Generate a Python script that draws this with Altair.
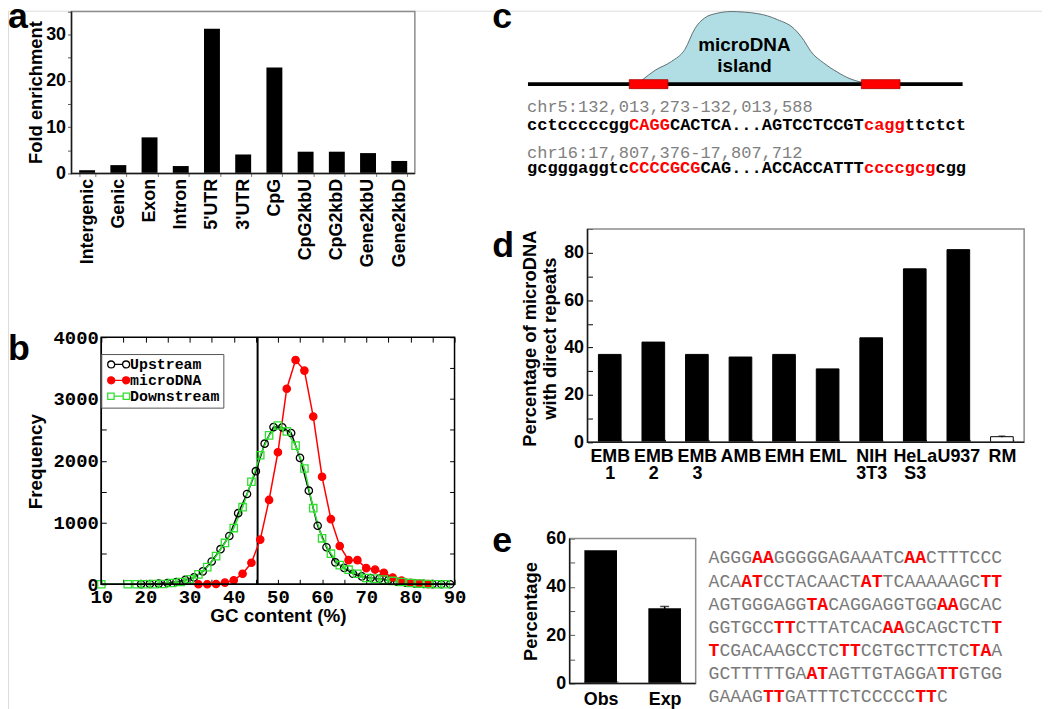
import altair as alt
import pandas as pd

# ------------------------------------------------------------------ data
a_categories = ["Intergenic", "Genic", "Exon", "Intron", "5'UTR", "3'UTR", "CpG",
                "CpG2kbU", "CpG2kbD", "Gene2kbU", "Gene2kbD"]
a_fold = [0.7, 1.8, 7.8, 1.6, 31.3, 4.1, 22.9, 4.7, 4.7, 4.4, 2.7]

b_series = ["Upstream", "microDNA", "Downstream"]
b_colors = ["black", "#ff0000", "#2fe02f"]
b_up_gc = [19, 21, 23, 25, 27, 29, 31, 33, 35, 37, 39, 41, 43, 45, 47, 49, 51, 53,
           55, 57, 59, 61, 63, 65, 67, 69, 71, 73, 75, 77, 79, 81, 83, 85, 87, 89]
b_up_freq = [2, 5, 11, 21, 37, 70, 112, 209, 369, 568, 782, 1151, 1462, 1831, 2276, 2544, 2540, 2448,
             2046, 1515, 948, 600, 355, 265, 170, 128, 102, 91, 66, 40, 24, 12, 6, 2, 0, 0]
b_mi_gc = [32, 34, 36, 38, 40, 42, 44, 46, 48, 50, 52, 54, 56, 58, 60, 62, 64, 66, 68,
           70, 72, 74, 76, 78, 80, 82, 84]
b_mi_freq = [0, 0, 5, 27, 64, 171, 348, 723, 1365, 2137, 3165, 3630, 3459, 2715, 1740, 1055, 620, 390, 390,
             262, 238, 187, 110, 60, 25, 10, 3]
b_dn_gc = [10, 16, 18, 20, 22, 24, 26, 28, 30, 32, 34, 36, 38, 40, 42, 44, 46, 48, 50,
           52, 54, 56, 58, 60, 62, 64, 66, 68, 70, 72, 74, 76, 78, 80, 82, 84, 86, 88]
b_dn_freq = [0, 0, 0, 0, 2, 5, 21, 37, 80, 160, 278, 455, 669, 910, 1248, 1660, 2088, 2410, 2570,
             2474, 2244, 1874, 1232, 744, 495, 310, 236, 171, 102, 91, 75, 54, 37, 21, 11, 5, 0, 0]
b_cutoff = 45.4

c_island_pos = [26.3, 29.2, 33.0, 36.1, 38.4, 40.6, 43.7, 46.7, 52.8, 57.4, 61.2, 63.5, 65.0, 68.0, 71.1, 74.1, 76.8]
c_island_height = [5.8, 18.9, 31.2, 47.8, 76.5, 91.0, 97.9, 100, 97.2, 88.9, 76.5, 60.1, 45.7, 29.3, 16.9, 7.4, 2.5]
c_repeat_start = [23.3, 76.7]
c_repeat_end = [32.2, 85.6]
c_island_label = ["microDNA", "island"]
c_coords = ["chr5:132,013,273-132,013,588", "chr16:17,807,376-17,807,712"]
c_seqs = ["cctcccccgg{CAGG}CACTCA...AGTCCTCCGT{cagg}ttctct",
          "gcgggaggtc{CCCCGCG}CAG...ACCACCATTT{ccccgcg}cgg"]

d_categories = ["EMB 1", "EMB 2", "EMB 3", "AMB", "EMH", "EML", "NIH 3T3", "HeLa S3", "U937", "RM"]
d_percent = [37.1, 42.3, 37.1, 36.0, 37.1, 31.0, 44.1, 73.2, 81.3, 2.4]
d_error = [0, 0, 0, 0, 0, 0, 0, 0, 0, 0.3]

e_categories = ["Obs", "Exp"]
e_percent = [55.2, 31.2]
e_error = [0, 0.7]
e_seq = ["AGGG{AA}GGGGGAGAAATC{AA}CTTTCCC",
         "ACA{AT}CCTACAACT{AT}TCAAAAAGC{TT}",
         "AGTGGGAGG{TA}CAGGAGGTGG{AA}GCAC",
         "GGTGCC{TT}CTTATCAC{AA}GCAGCTCT{T}",
         "{T}CGACAAGCCTC{TT}CGTGCTTCTC{TA}A",
         "GCTTTTTGA{AT}AGTTGTAGGA{TT}GTGG",
         "GAAAG{TT}GATTTCTCCCCC{TT}C"]

panel_letters = ["a", "b", "c", "d", "e"]

# ------------------------------------------------------------------ layout
SANS = "Liberation Sans"
MONO = "Liberation Mono"
W, H = 1042, 704


def X(r):
    # reference pixel -> view pixel (page has an 8px margin; squeeze only the first 40px)
    return round(r * 0.8, 2) if r < 40 else r - 8


def Y(r):
    return round(r * 52 / 60, 2) if r < 60 else r - 8


def lin(domain, r0, r1):
    return alt.Scale(domain=domain, range=[r0, r1], nice=False, zero=False)


BOLD18 = dict(labelFont=SANS, labelFontSize=18, labelFontWeight="bold", labelColor="black")
TITLE = dict(titleFont=SANS, titleFontWeight="bold", titleColor="black")


def frame(xr, yr, edge="#8c8c8c", lb="#1a1a1a", sw=1.5):
    xs = lin([0, 1], X(xr[0]), X(xr[1]))
    ys = lin([0, 1], Y(yr[1]), Y(yr[0]))
    box = alt.Chart(pd.DataFrame({"x0": [0], "x1": [1], "y0": [0], "y1": [1]})).mark_rect(
        fillOpacity=0, stroke=edge, strokeWidth=sw).encode(
        x=alt.X("x0:Q", scale=xs, axis=None), x2="x1:Q",
        y=alt.Y("y0:Q", scale=ys, axis=None), y2="y1:Q")
    lpath = alt.Chart(pd.DataFrame({"x": [0, 0, 1], "y": [1, 0, 0], "o": [0, 1, 2]})).mark_line(
        color=lb, strokeWidth=sw).encode(
        x=alt.X("x:Q", scale=xs, axis=None), y=alt.Y("y:Q", scale=ys, axis=None), order="o:Q")
    return [box, lpath]


def segments(s):
    out, buf, pos, red = [], "", 0, False
    for ch in s:
        if ch in "{}":
            if buf:
                out.append((buf, pos - len(buf), red))
            buf = ""
            red = ch == "{"
        else:
            buf += ch
            pos += 1
    if buf:
        out.append((buf, pos - len(buf), red))
    return out


tys = lin([100, 700], Y(100), Y(700))   # text baselines (reference px)

# ------------------------------------------------------------------ panel a
A_X, A_Y = (72, 418), (1, 172)
a_df = pd.DataFrame({"cat": a_categories, "val": a_fold})
a_bars = alt.Chart(a_df).mark_bar(color="black").encode(
    x=alt.X("cat:N", sort=a_categories,
            scale=alt.Scale(domain=a_categories, range=[X(A_X[0]), X(A_X[1])],
                            paddingInner=0.49, paddingOuter=0.245),
            axis=alt.Axis(orient="bottom", offset=Y(A_Y[1]) - H, title=None, labelAngle=270,
                          labelPadding=2, tickBand="extent", tickSize=3, tickColor="#777",
                          domain=False, labelOverlap=False, **BOLD18)),
    y=alt.Y("val:Q", scale=lin([0, 35], Y(A_Y[1]), Y(A_Y[0])),
            axis=alt.Axis(orient="left", offset=-X(A_X[0]), values=[0, 5, 10, 15, 20, 25, 30, 35],
                          labelExpr="datum.value % 10 === 0 ? datum.label : ''",
                          labelPadding=2, tickSize=4, tickColor="#555", domain=False, grid=False,
                          labelOverlap=False, title="Fold enrichment", titleFontSize=18.5,
                          titleAngle=270, titleAlign="center", titleBaseline="middle",
                          titleX=X(35) - X(A_X[0]), titleY=Y(90), **BOLD18, **TITLE)))

# ------------------------------------------------------------------ panel b
B_X, B_Y = (102, 458), (337, 586)
bxs = lin([10, 90], X(B_X[0]), X(B_X[1]))
bys = lin([0, 4000], Y(B_Y[1]), Y(B_Y[0]))
tick_x = [10, 15, 20, 25, 30, 35, 40, 45, 50, 55, 60, 65, 70, 75, 80, 85, 90]
tick_y = [0, 500, 1000, 1500, 2000, 2500, 3000, 3500, 4000]
b_df = pd.DataFrame({
    "gc": b_up_gc + b_mi_gc + b_dn_gc,
    "freq": b_up_freq + b_mi_freq + b_dn_freq,
    "series": [b_series[0]] * len(b_up_gc) + [b_series[1]] * len(b_mi_gc) + [b_series[2]] * len(b_dn_gc),
})
MONO_LAB = dict(labelFont=MONO, labelFontSize=19, labelFontWeight="bold", labelColor="black")
b_lines = alt.Chart(b_df).mark_line(strokeWidth=1.5).encode(
    x=alt.X("gc:Q", scale=bxs,
            axis=alt.Axis(orient="bottom", offset=Y(B_Y[1]) - 5 - H, values=tick_x, format="d",
                          labelExpr="datum.value % 10 === 0 ? datum.label : ''",
                          tickSize=5, tickColor="black", labelPadding=3, domain=False, grid=False,
                          labelFlush=False, labelOverlap=False,
                          title="GC content (%)", titleFontSize=19, titleAngle=0,
                          titleAlign="center", titleBaseline="alphabetic",
                          titleX=X(280), titleY=Y(624) - (Y(B_Y[1]) - 5), **MONO_LAB, **TITLE)),
    y=alt.Y("freq:Q", scale=bys,
            axis=alt.Axis(orient="left", offset=-(X(B_X[0]) + 5), values=tick_y, format="d",
                          labelExpr="datum.value % 1000 === 0 ? datum.label : ''",
                          tickSize=5, tickColor="black", labelPadding=3, domain=False, grid=False,
                          labelOverlap=False, title="Frequency", titleFontSize=19,
                          titleAngle=270, titleAlign="center", titleBaseline="middle",
                          titleX=X(35) - (X(B_X[0]) + 5), titleY=Y(462), **MONO_LAB, **TITLE)),
    color=alt.Color("series:N", scale=alt.Scale(domain=b_series, range=b_colors), legend=None))

b_fills = ["transparent", "#ff0000", "transparent"]
b_pts = alt.Chart(b_df).mark_point(strokeWidth=1.3, size=55, opacity=1).encode(
    x=alt.X("gc:Q", scale=bxs, axis=None),
    y=alt.Y("freq:Q", scale=bys, axis=None),
    color=alt.Color("series:N", scale=alt.Scale(domain=b_series, range=b_colors), legend=None),
    shape=alt.Shape("series:N", scale=alt.Scale(domain=b_series, range=["circle", "circle", "square"]),
                    legend=None),
    fill=alt.Fill("series:N", scale=alt.Scale(domain=b_series, range=b_fills), legend=None))

# legend glyphs "o-o" / "[]-[]" drawn as symbol paths (unit = sqrt(size)/2 px)
GLYPH_CIRCLES = ("M-2.75,0A0.875,0.875,0,1,1,-1,0A0.875,0.875,0,1,1,-2.75,0Z"
                 "M-1,0L1,0"
                 "M1,0A0.875,0.875,0,1,1,2.75,0A0.875,0.875,0,1,1,1,0Z")
GLYPH_SQUARES = ("M-2.75,-0.8H-1.15V0.8H-2.75Z"
                 "M-1.15,0H1.15"
                 "M1.15,-0.8H2.75V0.8H1.15Z")
b_leg = alt.Legend(orient="none", legendX=X(B_X[0]), legendY=Y(354), title=None,
                   labelFont=MONO, labelFontSize=15, labelFontWeight="bold", labelColor="black",
                   strokeColor="#555555", fillColor="white", padding=3, rowPadding=-3,
                   symbolStrokeWidth=1.3, symbolSize=64, symbolOffset=7, labelOffset=4)
b_legend = alt.Chart(pd.DataFrame({"series": pd.Series([], dtype=str)})).mark_point(opacity=1).encode(
    color=alt.Color("series:N", scale=alt.Scale(domain=b_series, range=b_colors), legend=b_leg),
    shape=alt.Shape("series:N", scale=alt.Scale(domain=b_series,
                                                range=[GLYPH_CIRCLES, GLYPH_CIRCLES, GLYPH_SQUARES]),
                    legend=b_leg),
    fill=alt.Fill("series:N", scale=alt.Scale(domain=b_series, range=b_fills), legend=b_leg))

b_cut = alt.Chart(pd.DataFrame({"gc": [b_cutoff], "lo": [0], "hi": [4000]})).mark_rule(
    color="black", strokeWidth=2).encode(
    x=alt.X("gc:Q", scale=bxs, axis=None), y=alt.Y("lo:Q", scale=bys, axis=None), y2="hi:Q")
b_mirror = alt.Chart(pd.DataFrame({"gc": [10], "freq": [0]})).mark_point(opacity=0).encode(
    x=alt.X("gc:Q", scale=bxs,
            axis=alt.Axis(orient="top", offset=-(Y(B_Y[0]) + 5), values=tick_x, labels=False,
                          tickSize=5, tickColor="black", domain=False, grid=False, title=None)),
    y=alt.Y("freq:Q", scale=bys,
            axis=alt.Axis(orient="right", offset=X(B_X[1]) - 5 - W, values=tick_y, labels=False,
                          tickSize=5, tickColor="black", domain=False, grid=False, title=None)))

# ------------------------------------------------------------------ panel c
cxs = lin([0, 100], X(532), X(970))
cys = lin([0, 100], Y(82), Y(1))
REP_HALF = 6.2
island_df = pd.DataFrame({"p": c_island_pos, "h": c_island_height, "base": [0] * len(c_island_pos)})
c_area = alt.Chart(island_df).mark_area(color="#b0dee4", interpolate="monotone", opacity=1).encode(
    x=alt.X("p:Q", scale=cxs, axis=None), y=alt.Y("h:Q", scale=cys, axis=None), y2="base:Q")
c_outline = alt.Chart(island_df).mark_line(color="#5f6f72", strokeWidth=1, interpolate="monotone").encode(
    x=alt.X("p:Q", scale=cxs, axis=None), y=alt.Y("h:Q", scale=cys, axis=None))
c_chrom = alt.Chart(pd.DataFrame({"s": [0], "e": [100], "y": [0]})).mark_rule(
    color="black", strokeWidth=4).encode(
    x=alt.X("s:Q", scale=cxs, axis=None), x2="e:Q", y=alt.Y("y:Q", scale=cys, axis=None))
rep_df = pd.DataFrame({"s": c_repeat_start, "e": c_repeat_end,
                       "lo": [-REP_HALF] * 2, "hi": [REP_HALF] * 2})
c_rep = alt.Chart(rep_df).mark_rect(color="#ff0000", stroke="#b00000", strokeWidth=0.8).encode(
    x=alt.X("s:Q", scale=cxs, axis=None), x2="e:Q",
    y=alt.Y("lo:Q", scale=cys, axis=None), y2="hi:Q")
c_lab_df = pd.DataFrame({"t": c_island_label, "x": [49.8, 49.8], "y": [54.3, 24.7]})
c_lab = alt.Chart(c_lab_df).mark_text(font=SANS, fontSize=19, fontWeight="bold", color="black",
                                      align="center", baseline="middle").encode(
    x=alt.X("x:Q", scale=cxs, axis=None), y=alt.Y("y:Q", scale=cys, axis=None), text="t:N")

C_CHAR = 10.29
c_chars = lin([0, 43], X(531), X(531 + 43 * C_CHAR))
c_fs = round(C_CHAR / 0.6, 2)
c_coord_df = pd.DataFrame({"t": c_coords, "i": [0, 0], "yb": [110, 156]})
c_coord = alt.Chart(c_coord_df).mark_text(font=MONO, fontSize=c_fs, color="#808080",
                                          align="left", baseline="alphabetic").encode(
    x=alt.X("i:Q", scale=c_chars, axis=None), y=alt.Y("yb:Q", scale=tys, axis=None), text="t:N")
rows = []
for s, yb in zip(c_seqs, [128, 172]):
    for t, i, red in segments(s):
        rows.append({"t": t, "i": i, "yb": yb, "col": "#ff0000" if red else "black"})
c_seq = alt.Chart(pd.DataFrame(rows)).mark_text(font=MONO, fontSize=c_fs, fontWeight="bold",
                                                align="left", baseline="alphabetic").encode(
    x=alt.X("i:Q", scale=c_chars, axis=None), y=alt.Y("yb:Q", scale=tys, axis=None), text="t:N",
    color=alt.Color("col:N", scale=None))

# ------------------------------------------------------------------ panel d
D_X, D_Y = (592, 1032), (228, 443)
dxs = alt.Scale(domain=d_categories, range=[X(D_X[0]), X(D_X[1])], paddingInner=0.48, paddingOuter=0.25)
dys = lin([0, 90], Y(D_Y[1]), Y(D_Y[0]))
d_df = pd.DataFrame({"cat": d_categories, "val": d_percent, "err": d_error})
d_bars = alt.Chart(d_df).mark_bar(stroke="black", strokeWidth=1).encode(
    x=alt.X("cat:N", sort=d_categories, scale=dxs,
            axis=alt.Axis(orient="bottom", offset=Y(D_Y[1]) - 3 - H, title=None, labelAngle=0,
                          labelExpr="split(datum.label, ' ')", labelLineHeight=17, labelPadding=5,
                          labelBaseline="top", labelAlign="center", tickBand="extent", tickSize=3,
                          tickColor="black", domain=False, labelOverlap=False, **BOLD18)),
    y=alt.Y("val:Q", scale=dys,
            axis=alt.Axis(orient="left", offset=-(X(D_X[0]) + 5), values=[0, 10, 20, 30, 40, 50, 60, 70, 80, 90],
                          labelExpr="datum.value % 20 === 0 ? datum.label : ''",
                          tickSize=5, tickColor="black", labelPadding=4, domain=False, grid=False,
                          labelOverlap=False, title=["Percentage of microDNA", "with direct repeats"],
                          titleFontSize=18.5, titleLineHeight=20, titleAngle=270, titleAlign="center",
                          titleBaseline="middle", titleX=X(533.5) - (X(D_X[0]) + 5), titleY=Y(338),
                          **BOLD18, **TITLE)),
    fill=alt.condition(alt.datum.cat == "RM", alt.value("white"), alt.value("black")))
d_err_df = d_df[d_df["err"] > 0].assign(lo=lambda t: t["val"] - t["err"], hi=lambda t: t["val"] + t["err"])
d_err_rule = alt.Chart(d_err_df).mark_rule(color="black", strokeWidth=1).encode(
    x=alt.X("cat:N", scale=dxs, axis=None), y=alt.Y("lo:Q", scale=dys, axis=None), y2="hi:Q")
d_err_cap = alt.Chart(d_err_df).mark_tick(color="black", size=7, thickness=1).encode(
    x=alt.X("cat:N", scale=dxs, axis=None), y=alt.Y("hi:Q", scale=dys, axis=None))

# ------------------------------------------------------------------ panel e
E_X, E_Y = (574, 701), (540, 686)
exs = alt.Scale(domain=e_categories, range=[X(E_X[0]), X(E_X[1])], paddingInner=0.49, paddingOuter=0.23)
eys = lin([0, 60], Y(E_Y[1]), Y(E_Y[0]))
e_df = pd.DataFrame({"cat": e_categories, "val": e_percent, "err": e_error})
e_bars = alt.Chart(e_df).mark_bar(color="black").encode(
    x=alt.X("cat:N", sort=e_categories, scale=exs,
            axis=alt.Axis(orient="bottom", offset=Y(E_Y[1]) - 3 - H, title=None, labelAngle=0,
                          labelPadding=7, labelBaseline="top", tickBand="extent", tickSize=3,
                          tickColor="#777", domain=False, labelOverlap=False, **BOLD18)),
    y=alt.Y("val:Q", scale=eys,
            axis=alt.Axis(orient="left", offset=-(X(E_X[0]) + 5), values=[0, 10, 20, 30, 40, 50, 60],
                          labelExpr="datum.value % 20 === 0 ? datum.label : ''",
                          tickSize=5, tickColor="#555", labelPadding=4, domain=False, grid=False,
                          labelOverlap=False, title="Percentage", titleFontSize=18.5, titleAngle=270,
                          titleAlign="center", titleBaseline="middle",
                          titleX=X(535) - (X(E_X[0]) + 5), titleY=Y(613), **BOLD18, **TITLE)))
e_err_df = e_df[e_df["err"] > 0].assign(lo=lambda t: t["val"] - t["err"], hi=lambda t: t["val"] + t["err"])
e_err_rule = alt.Chart(e_err_df).mark_rule(color="black", strokeWidth=1.5).encode(
    x=alt.X("cat:N", scale=exs, axis=None), y=alt.Y("lo:Q", scale=eys, axis=None), y2="hi:Q")
e_err_cap = alt.Chart(e_err_df).mark_tick(color="black", size=9, thickness=1.5).encode(
    x=alt.X("cat:N", scale=exs, axis=None), y=alt.Y("hi:Q", scale=eys, axis=None))

E_CHAR = 10.96
e_chars = lin([0, 27], X(714), X(714 + 27 * E_CHAR))
e_fs = round(E_CHAR / 0.6, 2)
E_BASE = [565, 588.3, 611.7, 635, 658.3, 681.7, 705]
gray_rows, red_rows = [], []
for s, yb in zip(e_seq, E_BASE):
    for t, i, red in segments(s):
        (red_rows if red else gray_rows).append({"t": t, "i": i, "yb": yb})
e_gray = alt.Chart(pd.DataFrame(gray_rows)).mark_text(font=MONO, fontSize=e_fs, color="#7a7a7a",
                                                      align="left", baseline="alphabetic").encode(
    x=alt.X("i:Q", scale=e_chars, axis=None), y=alt.Y("yb:Q", scale=tys, axis=None), text="t:N")
e_red = alt.Chart(pd.DataFrame(red_rows)).mark_text(font=MONO, fontSize=e_fs, fontWeight="bold",
                                                    color="#ff0000", align="left", baseline="alphabetic").encode(
    x=alt.X("i:Q", scale=e_chars, axis=None), y=alt.Y("yb:Q", scale=tys, axis=None), text="t:N")

# ------------------------------------------------------------------ panel letters
LETTER_X = [0, 0, 496, 496, 496]
LETTER_Y = [20, 358, 20, 253, 553]
lxs = lin([0, 496], X(0), X(496))
lys = lin([20, 553], Y(20), Y(553))
letters = alt.Chart(pd.DataFrame({"t": panel_letters, "x": LETTER_X, "y": LETTER_Y})).mark_text(
    font=SANS, fontSize=36, fontWeight="bold", color="black", align="left", baseline="alphabetic").encode(
    x=alt.X("x:Q", scale=lxs, axis=None), y=alt.Y("y:Q", scale=lys, axis=None), text="t:N")

layers = ([a_bars] + frame(A_X, A_Y)
          + [b_cut, b_lines, b_pts, b_mirror, b_legend] + frame(B_X, B_Y, edge="black", lb="black")
          + [c_area, c_outline, c_chrom, c_rep, c_lab, c_coord, c_seq]
          + [d_bars, d_err_rule, d_err_cap] + frame(D_X, D_Y)
          + [e_bars, e_err_rule, e_err_cap] + frame(E_X, E_Y) + [e_gray, e_red]
          + [letters])

chart = alt.layer(*layers).resolve_scale(
    x="independent", y="independent", color="independent", fill="independent", shape="independent"
).properties(
    width=W, height=H, padding=0, autosize=alt.AutoSizeParams(type="none")
).configure_view(stroke=None).configure(font=SANS)

chart.save("out.html", embed_options={"renderer": "svg", "actions": False})
